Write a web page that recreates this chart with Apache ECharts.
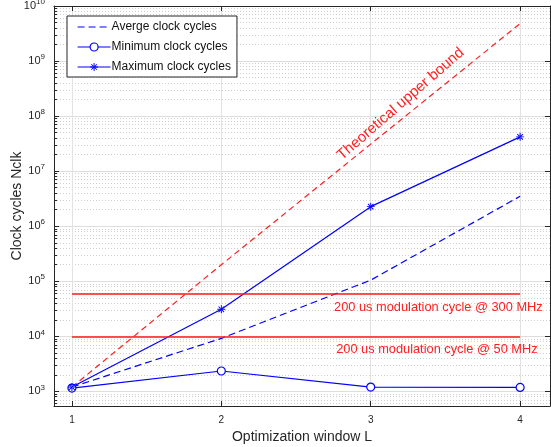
<!DOCTYPE html>
<html>
<head>
<meta charset="utf-8">
<script src="https://cdn.jsdelivr.net/npm/echarts@6/dist/echarts.min.js"></script>
<style>
  html, body { margin: 0; padding: 0; background: #fff; }
  #chart { width: 551px; height: 447px; }
</style>
</head>
<body>
<div id="chart"></div>
<script>
  // optimization window L
  const windowL = [1, 2, 3, 4];
  // clock cycles (log scale)
  const avgCycles = [1200, 9200, 105000, 3500000];
  const minCycles = [1150, 2350, 1200, 1180];
  const maxCycles = [1200, 31000, 2270000, 42000000];
  const boundCycles = [1200, 200000, 31000000, 4800000000];
  // 200 us budget at 300 MHz and 50 MHz
  const budget300 = 60000;
  const budget50 = 10000;
  const budgetX = [1, 4];
  // y tick exponents
  const yTickExp = [3, 4, 5, 6, 7, 8, 9, 10];

  const blue = '#0000ff';
  const red = '#ff2020';
  const axisColor = '#262626';
  const font = "'Liberation Sans', Arial, Helvetica, sans-serif";

  let minorVals = [];
  for (let e = 2; e < 10; e++) {
    for (let k = 2; k <= 9; k++) {
      let v = e + Math.log10(k);
      if (v > 2.735 && v < 10) minorVals.push(v);
    }
  }

  const lg = v => Math.log10(v);
  const toPts = arr => windowL.map((x, i) => [x, lg(arr[i])]);
  const hLine = v => [{ coord: [budgetX[0], lg(v)] }, { coord: [budgetX[1], lg(v)] }];

  // asterisk marker like matlab '*'
  const star = 'path://M-0.6,-5 h1.2 v10 h-1.2 Z M-5,-0.6 h10 v1.2 h-10 Z M-3.9,-3.1 L3.1,3.9 L3.9,3.1 L-3.1,-3.9 Z M3.9,-3.1 L-3.1,3.9 L-3.9,3.1 L3.1,-3.9 Z';

  let dom = echarts.init(document.getElementById('chart'));
  let option = {
    backgroundColor: '#fff',
    animation: false,
    textStyle: { fontFamily: font },
    grid: { left: 54, right: 1, top: 6, bottom: 41, containLabel: false, outerBoundsMode: 'none' },
    legend: {
      left: 67,
      top: 16,
      orient: 'vertical',
      itemWidth: 33,
      itemHeight: 10,
      itemGap: 8,
      padding: [5, 6, 4, 10],
      backgroundColor: '#fff',
      borderColor: axisColor,
      borderWidth: 1,
      borderRadius: 0,
      data: [
        { name: 'Averge clock cycles', itemStyle: { opacity: 0 }, lineStyle: { width: 1.2 } },
        { name: 'Minimum clock cycles', itemStyle: { borderWidth: 1.2 }, lineStyle: { width: 1.2 } },
        { name: 'Maximum clock cycles', lineStyle: { width: 1.2 } }
      ],
      textStyle: { fontSize: 12, color: '#111', padding: [0, 0, 0, -4], fontFamily: font }
    },
    xAxis: [{
      type: 'value',
      min: 0.88,
      max: 4.2,
      name: 'Optimization window L',
      nameLocation: 'middle',
      nameGap: 24,
      nameMoveOverlap: false,
      nameTextStyle: { fontSize: 14, color: axisColor, fontFamily: font },
      axisLine: { onZero: false, lineStyle: { color: axisColor, width: 1 } },
      axisTick: { inside: true, length: 5, customValues: windowL, lineStyle: { color: axisColor } },
      axisLabel: { customValues: windowL, fontSize: 10, color: axisColor, margin: 9 },
      splitLine: { show: true, lineStyle: { color: '#e2e2e2', width: 1 } }
    }, {
      type: 'value',
      position: 'top',
      min: 0.88,
      max: 4.2,
      axisLine: { show: true, onZero: false, lineStyle: { color: axisColor, width: 1 } },
      axisTick: { inside: true, length: 5, customValues: windowL, lineStyle: { color: axisColor } },
      axisLabel: { show: false },
      splitLine: { show: false }
    }],
    yAxis: [{
      type: 'value',
      min: 2.735,
      max: 10,
      name: 'Clock cycles Nclk',
      nameLocation: 'middle',
      nameGap: 30,
      nameMoveOverlap: false,
      nameTextStyle: { fontSize: 14, color: axisColor, fontFamily: font },
      axisLine: { show: true, onZero: false, lineStyle: { color: axisColor, width: 1 } },
      axisTick: { inside: true, length: 5, customValues: yTickExp, lineStyle: { color: axisColor } },
      axisLabel: {
        customValues: yTickExp,
        margin: 9,
        color: axisColor,
        formatter: v => '{b|10}{e|' + Math.round(v) + '}',
        rich: {
          b: { fontSize: 11, color: axisColor, fontFamily: font },
          e: { fontSize: 8, color: axisColor, fontFamily: font, padding: [0, 0, 8, 0] }
        }
      },
      splitLine: { show: true, lineStyle: { color: '#dedede', width: 1 } }
    }, {
      type: 'value',
      min: 2.735,
      max: 10,
      position: 'left',
      axisLine: { show: false, onZero: false },
      axisTick: { show: true, inside: true, length: 3, customValues: minorVals, lineStyle: { color: axisColor } },
      axisLabel: { show: false },
      splitLine: { show: true, lineStyle: { color: '#cfcfcf', width: 1, type: [1, 2] } }
    }, {
      type: 'value',
      min: 2.735,
      max: 10,
      position: 'right',
      axisLine: { show: true, onZero: false, lineStyle: { color: axisColor, width: 1 } },
      axisTick: { show: true, inside: true, length: 5, customValues: yTickExp, lineStyle: { color: axisColor } },
      axisLabel: { show: false },
      splitLine: { show: false }
    }],
    series: [{
      name: 'Theoretical upper bound',
      type: 'line',
      data: toPts(boundCycles),
      symbol: 'none',
      silent: true,
      lineStyle: { color: red, width: 1.2, type: [6, 4] },
      markLine: {
        silent: true,
        symbol: 'none',
        animation: false,
        label: { show: false },
        lineStyle: { color: '#ff1a1a', width: 1.5, type: 'solid' },
        data: [hLine(budget300), hLine(budget50)]
      },
      markPoint: {
        symbolSize: 0,
        silent: true,
        data: [
          {
            coord: [3.2, 8.22], value: 0,
            label: { rotate: 41, fontSize: 15, formatter: 'Theoretical upper bound' }
          },
          {
            coord: [3.453, 4.53], value: 0,
            label: { fontSize: 12.8, formatter: '200 us modulation cycle @ 300 MHz' }
          },
          {
            coord: [3.443, 3.76], value: 0,
            label: { fontSize: 12.8, formatter: '200 us modulation cycle @ 50 MHz' }
          }
        ],
        label: { show: true, position: 'inside', color: red, fontFamily: font }
      }
    }, {
      name: 'Averge clock cycles',
      type: 'line',
      data: toPts(avgCycles),
      symbol: 'none',
      itemStyle: { color: blue },
      lineStyle: { color: blue, width: 1.2, type: [7, 4] }
    }, {
      name: 'Minimum clock cycles',
      type: 'line',
      data: toPts(minCycles),
      symbol: 'circle',
      symbolSize: 8,
      showAllSymbol: true,
      itemStyle: { color: '#fff', borderColor: blue, borderWidth: 1.2 },
      lineStyle: { color: blue, width: 1.2 }
    }, {
      name: 'Maximum clock cycles',
      type: 'line',
      data: toPts(maxCycles),
      symbol: star,
      symbolSize: 8,
      itemStyle: { color: blue },
      lineStyle: { color: blue, width: 1.2 }
    }]
  };
  dom.setOption(option);
</script>
</body>
</html>
